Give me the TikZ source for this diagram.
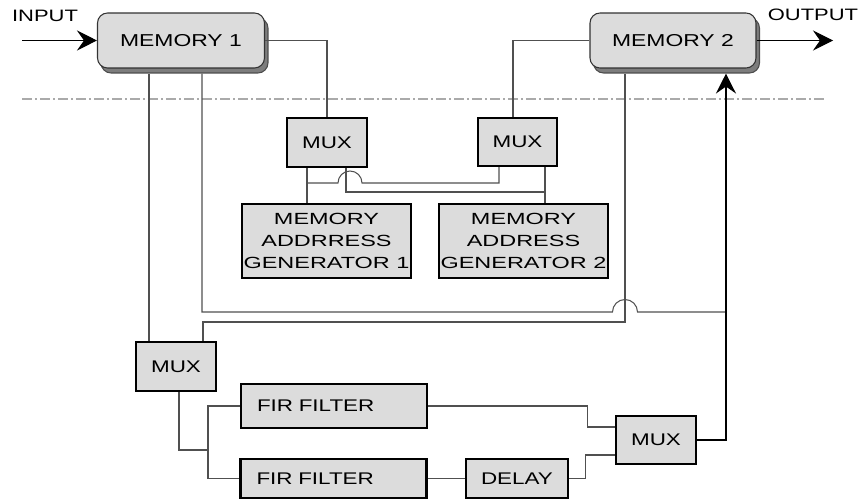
\documentclass[tikz,border=0pt]{standalone}
\usepackage{fontspec}
\setmainfont[FakeStretch=1.33]{Liberation Sans}
\newfontfamily\widesans[FakeStretch=1.45]{Liberation Sans}
\usetikzlibrary{arrows.meta,shadows}
\definecolor{boxgray}{RGB}{220,220,220}
\definecolor{shadegray}{RGB}{125,125,125}
\definecolor{sepgray}{RGB}{170,170,170}
\definecolor{wiregray}{RGB}{80,80,80}
\tikzset{
  membox/.style={draw=black!80, line width=0.6pt, fill=boxgray, rounded corners=0.2cm, minimum width=3.34cm, minimum height=1.1cm, inner sep=0pt, font=\fontsize{9.8}{12}\selectfont, drop shadow={shadow xshift=0.07cm, shadow yshift=-0.1cm, fill=shadegray, draw=black!70, opacity=1}},
  blk/.style={draw, line width=1.2pt, fill=boxgray, inner sep=0pt, minimum width=1.6cm, minimum height=0.98cm, font=\fontsize{9.6}{12}\selectfont},
  magbox/.style={blk, align=center, minimum width=3.38cm, minimum height=1.48cm, font=\widesans\fontsize{9.2}{12.3}\selectfont},
  firbox/.style={blk, text width=3.08cm, inner xsep=0.32cm, align=left, minimum height=0.82cm},
  wire/.style={draw=wiregray, line width=0.6pt},
  bigarrow/.style={-{Stealth[length=0.4cm,width=0.4cm,inset=0.14cm]}},
  sepline/.style={draw=sepgray, line width=1.2pt, dash pattern=on 0.2cm off 0.06cm on 0.04cm off 0.06cm}
}

\begin{document}
\begin{tikzpicture}[x=0.02cm,y=-0.02cm]
            \useasboundingbox (0,0) rectangle (863,500);
            \node[membox] (mem1) at (181,40.5) {MEMORY 1};
            \node[membox, minimum width=3.32cm] (mem2) at (673,40.5) {MEMORY 2};
            \node[font=\fontsize{9.4}{11}\selectfont] (inlbl) at (45,16) {INPUT};
            \node[font=\fontsize{9.4}{11}\selectfont] (outlbl) at (813,15) {OUTPUT};
            \coordinate (inpt) at (22,40.5);
            \coordinate (outpt) at (833,40.5);
            \draw[line width=0.6pt,bigarrow] (inpt) -- (mem1.west);
            \draw[line width=0.6pt,bigarrow] (mem2.east) -- (outpt);
            \coordinate (sepL) at (22,99);
            \coordinate (sepR) at (825,99);
            \draw[sepline] (sepL) -- (sepR);

            \node[blk] (mux1) at (327,142.5) {MUX};
            \node[blk, minimum width=1.58cm, minimum height=0.96cm] (mux2) at (517.5,142) {MUX};
            \node[magbox] (mag1) at (326.5,241) {MEMORY\\ADDRRESS\\GENERATOR 1};
            \node[magbox] (mag2) at (523.5,241) {MEMORY\\ADDRESS\\GENERATOR 2};
            \node[blk] (mux3) at (176,366.5) {MUX};
            \node[firbox, minimum height=0.88cm] (fir1) at (334,406) {FIR FILTER};
            \node[firbox, minimum height=0.78cm] (fir2) at (333.5,478.5) {FIR FILTER};
            \node[blk, minimum width=2.04cm, minimum height=0.78cm] (delay) at (517,478.5) {DELAY};
            \node[blk, minimum height=0.96cm] (mux4) at (656,440) {MUX};

            \draw[wire] (mem1.east) -| (mux1.north);
            \coordinate (m2in) at ([xshift=-0.09cm]mux2.north);
            \draw[wire] (m2in) |- (mem2.west);

            \coordinate (m1a) at ([xshift=-0.64cm,yshift=-0.1cm]mem1.south);
            \coordinate (m1b) at ([xshift=0.42cm,yshift=-0.1cm]mem1.south);
            \coordinate (m2a) at ([xshift=-0.96cm,yshift=-0.1cm]mem2.south);
            \coordinate (m2b) at ([xshift=1.06cm,yshift=-0.1cm]mem2.south);
            \coordinate (m3b) at ([xshift=0.54cm]mux3.north);
            \coordinate (hopA) at (612.5,312);
            \coordinate (lowbus) at (400,322);
            \draw[wire] (m1a) -- (m1a |- mux3.north);
            \draw[wire] (m1b) |- (hopA) arc[start angle=180,end angle=0,radius=0.25cm] -- (m2b |- hopA);
            \draw[wire] (m2a) |- (m3b |- lowbus) -- (m3b);

            \coordinate (x1a) at ([xshift=-0.4cm]mux1.south);
            \coordinate (x1b) at ([xshift=0.38cm]mux1.south);
            \coordinate (x2a) at ([xshift=-0.37cm]mux2.south);
            \coordinate (x2b) at ([xshift=0.55cm]mux2.south);
            \coordinate (hopB) at (338,183);
            \coordinate (midbus) at (400,192);
            \draw[wire] (x1a) -- (x1a |- mag1.north);
            \draw[wire] (x2b) -- (x2b |- mag2.north);
            \draw[wire] (x1a |- hopB) -- (hopB) arc[start angle=180,end angle=0,radius=0.24cm] -| (x2a);
            \draw[wire] (x1b) |- (x2b |- midbus);

            \coordinate (fork) at (208,450);
            \draw[wire] ([xshift=0.06cm]mux3.south) |- (fork);
            \draw[wire] (fir1.west) -| (fork) |- (fir2.west);
            \draw[wire] (fir1.east) -- ++(159,0) |- ([yshift=0.26cm]mux4.west);
            \draw[wire] (fir2.east) -- (delay.west);
            \draw[wire] (delay.east) -- ++(16,0) |- ([yshift=-0.3cm]mux4.west);
            \draw[wire,draw=black,bigarrow] (mux4.east) -| (m2b);
        \end{tikzpicture}
\end{document}
